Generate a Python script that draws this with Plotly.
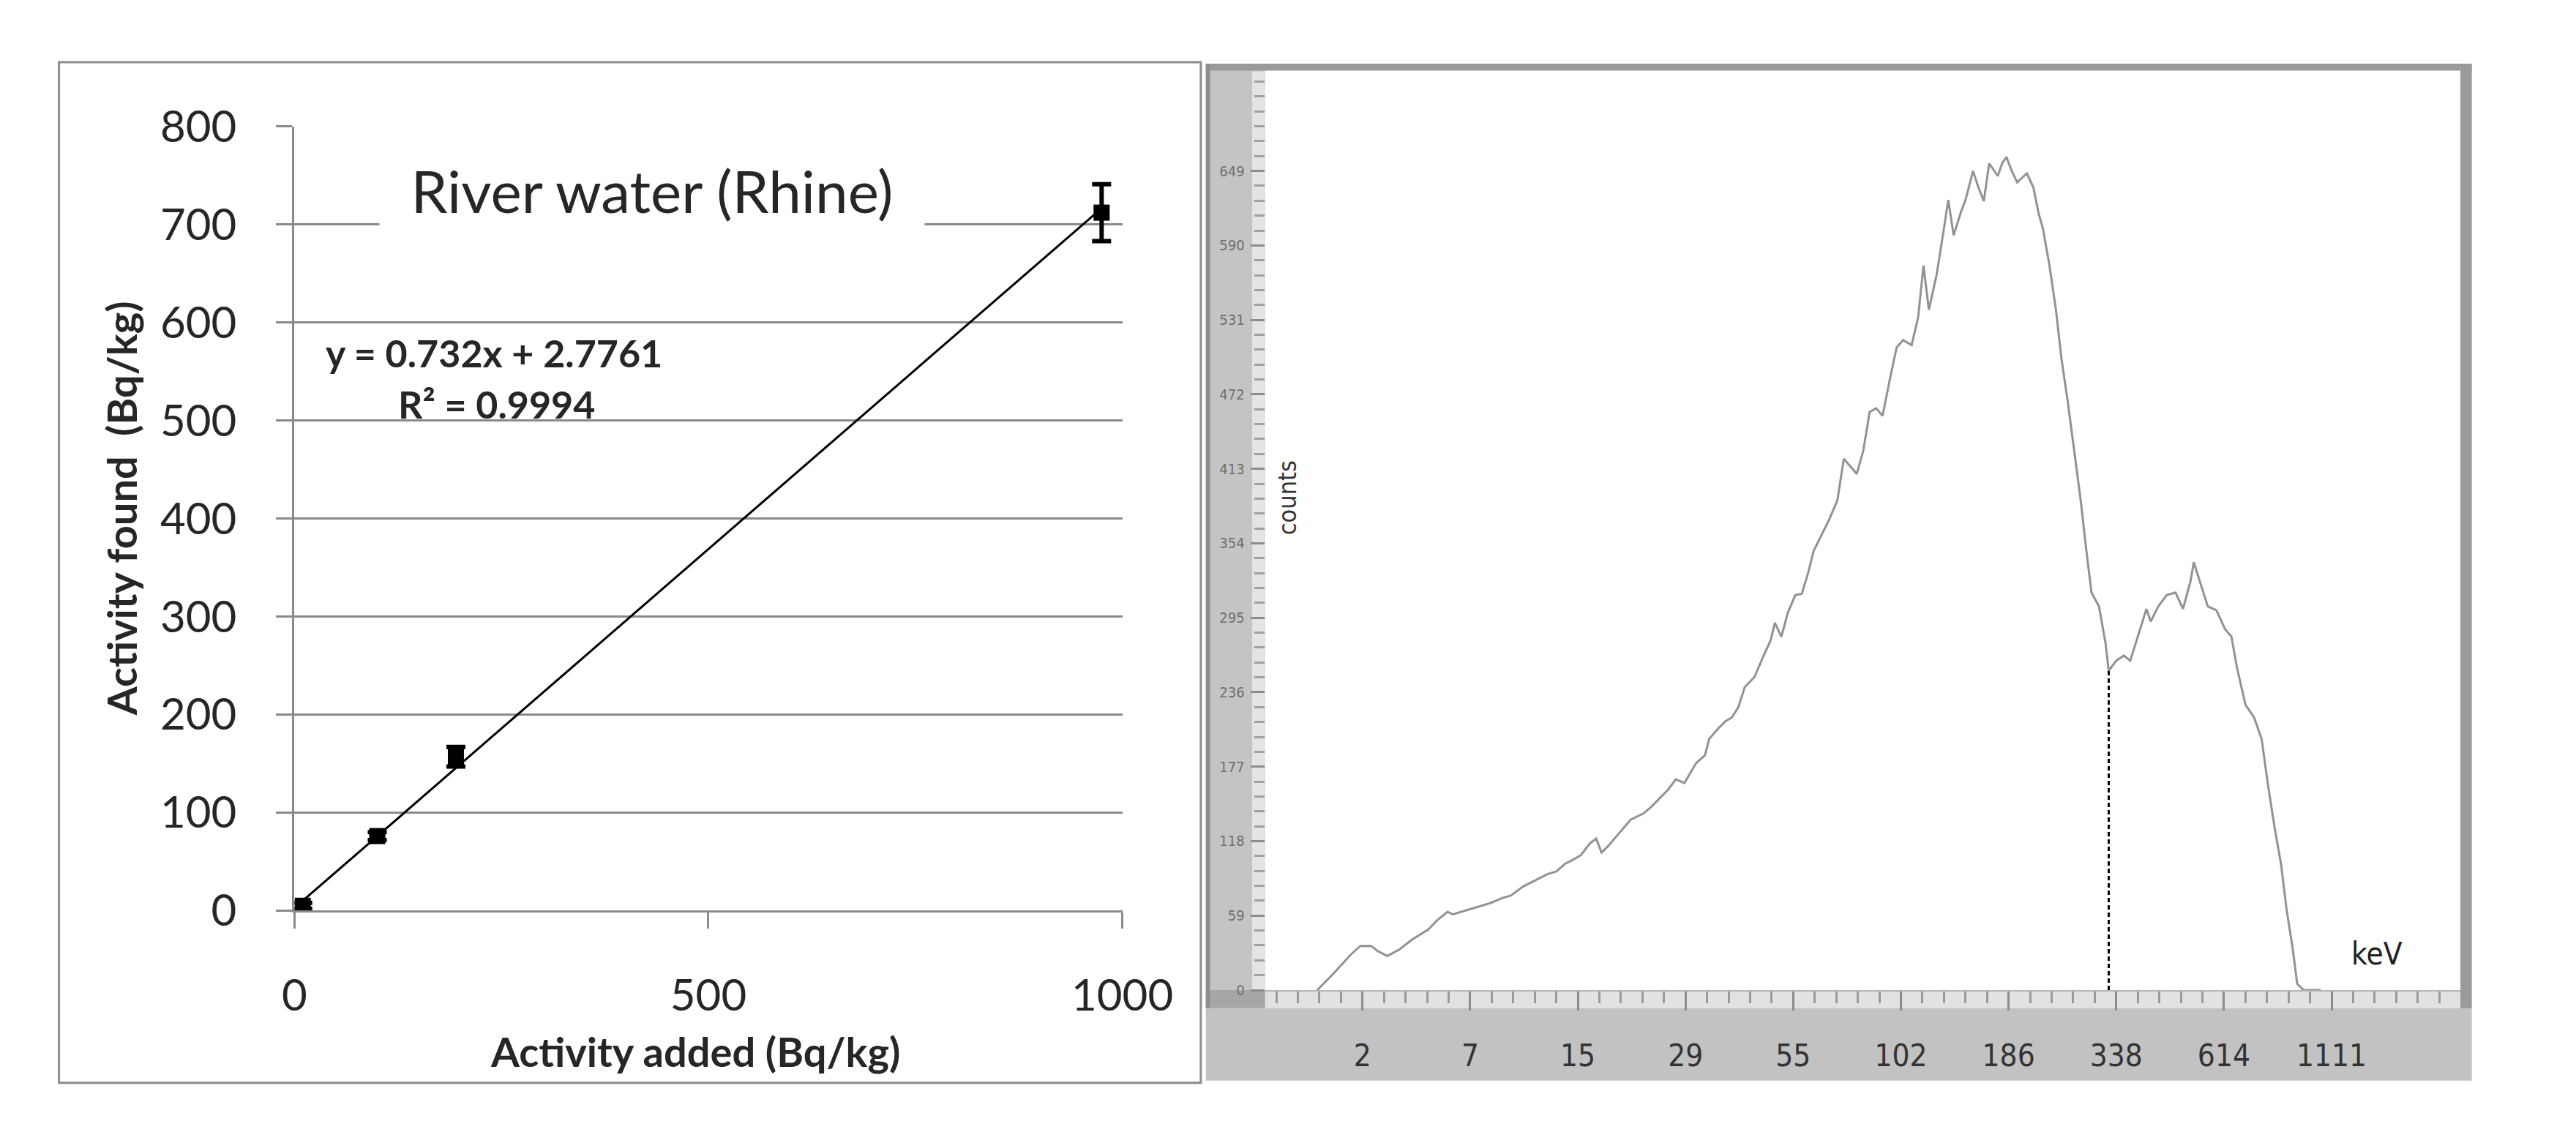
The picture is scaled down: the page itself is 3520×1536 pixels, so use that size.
import plotly.graph_objects as go

# ---- left chart: activity found vs activity added (river water) ----
added = [10, 100, 195, 975]
found = [5, 76, 157, 712]
found_err = [3, 4, 10, 29]
slope = 0.732
intercept = 2.7761
r2 = 0.9994
fit_x = [10, 975]
fit_y = [slope * x + intercept for x in fit_x]

# ---- right chart: spectrum (x = position of the keV label, 0..9) ----
kev_labels = ["2", "7", "15", "29", "55", "102", "186", "338", "614", "1111"]
kev_pos = list(range(len(kev_labels)))
count_ticks = [0, 59, 118, 177, 236, 295, 354, 413, 472, 531, 590, 649]

chan = [-0.42, -0.27, -0.11, -0.02, 0.08, 0.14, 0.23, 0.34, 0.46, 0.61,
        0.69, 0.79, 0.84, 0.96, 1.03, 1.11, 1.19, 1.30, 1.38, 1.49,
        1.61, 1.72, 1.80, 1.88, 1.95, 2.03, 2.11, 2.17, 2.22, 2.28,
        2.38, 2.49, 2.61, 2.68, 2.76, 2.84, 2.91, 2.99, 3.03, 3.10,
        3.18, 3.22, 3.30, 3.37, 3.43, 3.49, 3.55, 3.64, 3.72, 3.79,
        3.83, 3.89, 3.95, 4.02, 4.08, 4.14, 4.19, 4.25, 4.33, 4.41,
        4.47, 4.53, 4.59, 4.65, 4.71, 4.77, 4.83, 4.90, 4.96, 5.02,
        5.10, 5.16, 5.21, 5.26, 5.33, 5.39, 5.44, 5.49, 5.56, 5.60,
        5.67, 5.72, 5.77, 5.82, 5.90, 5.94, 5.98, 6.03, 6.08, 6.13,
        6.17, 6.23, 6.28, 6.32, 6.38, 6.44, 6.49, 6.55, 6.61, 6.67,
        6.72, 6.77, 6.84, 6.90, 6.93, 7.00, 7.07, 7.13, 7.20, 7.28,
        7.32, 7.39, 7.47, 7.55, 7.62, 7.69, 7.72, 7.78, 7.85, 7.93,
        8.01, 8.07, 8.12, 8.20, 8.28, 8.35, 8.41, 8.47, 8.53, 8.58,
        8.64, 8.68, 8.74, 8.90]
counts = [0, 13, 28, 35, 35, 31, 27, 32, 40, 48,
          55, 62, 60, 63, 65, 67, 69, 73, 75, 82,
          87, 92, 94, 100, 103, 107, 116, 120, 109, 114,
          124, 135, 140, 145, 152, 159, 167, 164, 170, 180,
          186, 199, 207, 213, 216, 224, 240, 248, 264, 277,
          291, 280, 299, 313, 314, 331, 348, 358, 372, 388,
          421, 415, 409, 427, 458, 461, 455, 485, 509, 515,
          511, 533, 574, 539, 566, 598, 626, 598, 617, 626,
          649, 636, 625, 655, 645, 655, 660, 649, 640, 644,
          647, 636, 615, 603, 574, 539, 501, 466, 426, 388,
          350, 315, 304, 275, 253, 261, 265, 261, 280, 302,
          292, 304, 313, 315, 302, 324, 339, 323, 304, 301,
          286, 280, 256, 226, 216, 199, 162, 129, 100, 65,
          32, 5, 0, 0]
cut_chan = 6.93
cut_counts = 253

# page is 3504x1520 inside an 8px body margin; helpers map page pixels to paper
W, H, OFF = 3504, 1520, 8


def fx(px):
    return (px - OFF) / W


def fy(py):
    return 1 - (py - OFF) / H


def label(text, x, y, size, family, color="#262626", **kw):
    return dict(text=text, xref="paper", yref="paper", x=fx(x), y=fy(y),
                xanchor="center", yanchor="middle", showarrow=False,
                font=dict(family=family, size=size, color=color), **kw)


fig = go.Figure()

fig.add_trace(go.Scatter(x=fit_x, y=fit_y, mode="lines",
                         line=dict(color="black", width=3),
                         xaxis="x", yaxis="y", showlegend=False))
fig.add_trace(go.Scatter(x=added, y=found, mode="markers",
                         marker=dict(symbol="square", size=22, color="black"),
                         error_y=dict(type="data", array=found_err, color="black",
                                      thickness=6, width=13),
                         xaxis="x", yaxis="y", showlegend=False))

fig.add_trace(go.Scatter(x=chan, y=counts, mode="lines",
                         line=dict(color="#929292", width=3),
                         xaxis="x2", yaxis="y2", showlegend=False))
fig.add_trace(go.Scatter(x=[cut_chan, cut_chan], y=[0, cut_counts], mode="lines",
                         line=dict(color="black", width=3, dash="6px,4px"),
                         xaxis="x2", yaxis="y2", showlegend=False))

grey = "#8a8a8a"
calibri = "Lato, Open Sans, sans-serif"
tahoma = "DejaVu Sans Condensed, Liberation Sans Narrow, DejaVu Sans, sans-serif"

shapes = [
    # left frame
    dict(type="rect", xref="paper", yref="paper", x0=fx(65), x1=fx(1665),
         y0=fy(1513), y1=fy(49), line=dict(color="#8c8c8c", width=3)),
    # right panel: left strip, ruler band, label strip, frame
    dict(type="rect", xref="paper", yref="paper", x0=fx(1672), x1=fx(1755),
         y0=fy(1380), y1=fy(52), fillcolor="#c4c4c4", line_width=0, layer="below"),
    dict(type="rect", xref="paper", yref="paper", x0=fx(1737), x1=fx(1755),
         y0=fy(1380), y1=fy(62), fillcolor="#e4e4e4", line_width=0, layer="below"),
    dict(type="rect", xref="paper", yref="paper", x0=fx(1672), x1=fx(3446),
         y0=fy(1406), y1=fy(1380), fillcolor="#e2e2e2", line_width=0, layer="below"),
    dict(type="rect", xref="paper", yref="paper", x0=fx(1672), x1=fx(1755),
         y0=fy(1406), y1=fy(1380), fillcolor="#a6a6a6", line_width=0, layer="below"),
    dict(type="rect", xref="paper", yref="paper", x0=fx(1672), x1=fx(3446),
         y0=fy(1510), y1=fy(1406), fillcolor="#c2c2c2", line_width=0, layer="below"),
    dict(type="rect", xref="paper", yref="paper", x0=fx(1672), x1=fx(3446),
         y0=fy(61), y1=fy(51), fillcolor="#9a9a9a", line_width=0, layer="below"),
    dict(type="rect", xref="paper", yref="paper", x0=fx(3430), x1=fx(3446),
         y0=fy(1406), y1=fy(51), fillcolor="#9a9a9a", line_width=0, layer="below"),
    dict(type="rect", xref="paper", yref="paper", x0=fx(1672), x1=fx(1678),
         y0=fy(1406), y1=fy(51), fillcolor="#8e8e8e", line_width=0, layer="below"),
]

annotations = [
    label("River water (Rhine)", 896, 233, 80, calibri,
          bgcolor="white", width=720, height=112, borderpad=12),
    label("<b>y = %.3fx + %.4f</b>" % (slope, intercept), 675, 466, 52, calibri),
    label("<b>R² = %.4f</b>" % r2, 678, 539, 52, calibri),
    label("<b>Activity found  (Bq/kg)</b>", 152, 689, 56, calibri, textangle=-90),
    label("<b>Activity added (Bq/kg)</b>", 957, 1468, 56, calibri),
    label("counts", 1787, 674, 34, tahoma, color="#333333", textangle=-90),
    label("keV", 3313, 1328, 42, tahoma, color="#222222"),
]

fig.update_layout(
    width=W, height=H, margin=dict(l=0, r=0, t=0, b=0),
    paper_bgcolor="white", plot_bgcolor="rgba(0,0,0,0)",
    shapes=shapes, annotations=annotations,
    xaxis=dict(domain=[fx(395), fx(1555)], range=[0, 1000], tickvals=[0, 500, 1000],
               showgrid=False, zeroline=False, showline=True, linecolor=grey, linewidth=3,
               ticks="outside", ticklen=22, tickwidth=3, tickcolor=grey,
               ticklabelstandoff=40,
               tickfont=dict(family=calibri, size=60, color="#262626"), anchor="y"),
    yaxis=dict(domain=[fy(1266), fy(141)], range=[0, 800], dtick=100,
               showgrid=True, gridcolor=grey, gridwidth=3, zeroline=False,
               showline=True, linecolor=grey, linewidth=3,
               ticks="outside", ticklen=22, tickwidth=3, tickcolor=grey,
               ticklabelstandoff=42,
               tickfont=dict(family=calibri, size=60, color="#262626"), anchor="x"),
    xaxis2=dict(domain=[fx(1755), fx(3430)], range=[-0.905, 10.196],
                tickvals=kev_pos, ticktext=kev_labels,
                showgrid=False, zeroline=False, showline=True, linecolor="#b4b4b4",
                linewidth=2, ticks="outside", ticklen=26, tickwidth=3, tickcolor="#8c8c8c",
                minor=dict(dtick=0.2, tick0=0, ticks="outside", ticklen=16,
                           tickwidth=3, tickcolor="#9a9a9a"),
                ticklabelstandoff=26,
                tickfont=dict(family=tahoma, size=42, color="#333333"), anchor="y2"),
    yaxis2=dict(domain=[fy(1380), fy(61)], range=[0, 728.5],
                tickvals=count_ticks, showgrid=False, zeroline=False, showline=False,
                ticks="outside", ticklen=19, tickwidth=3, tickcolor="#8c8c8c",
                minor=dict(dtick=11.8, tick0=0, ticks="outside", ticklen=14,
                           tickwidth=3, tickcolor="#a0a0a0"),
                ticklabelstandoff=4,
                tickfont=dict(family=tahoma, size=20, color="#6e6e6e"), anchor="x2"),
)

fig.write_html("out.html")
